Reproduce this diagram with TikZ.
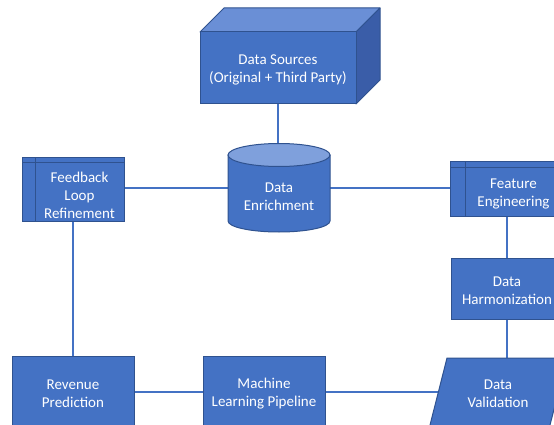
\documentclass[tikz,border=0pt]{standalone}
\usepackage{fontspec}
\setmainfont{Carlito}
\definecolor{boxfill}{HTML}{4472C4}
\definecolor{boxline}{HTML}{2F528F}
\definecolor{topface}{HTML}{6A8FD6}
\definecolor{sideface}{HTML}{3A5DA8}
\definecolor{captop}{HTML}{7FA0DC}
\definecolor{wire}{HTML}{4472C4}
\begin{document}
\begin{tikzpicture}[x=1pt,y=-1pt,
  lbl/.style={text=white,font=\fontsize{15}{18}\selectfont,align=center,inner sep=0pt,yshift=-2pt},
  shp/.style={fill=boxfill,draw=boxline,line width=1pt},
  wireline/.style={draw=wire,line width=1.5pt}]
\useasboundingbox (0,0) rectangle (554,425);
% connectors (drawn first, under shapes)
\coordinate (dsb) at (278,104);
\coordinate (ent) at (278,144);
\coordinate (enl) at (228,188);
\coordinate (enr) at (330,188);
\coordinate (fbr) at (124,188);
\coordinate (fbb) at (73,221);
\coordinate (ftl) at (450,188);
\coordinate (ftb) at (507,216);
\coordinate (dht) at (507,258);
\coordinate (dhb) at (507,319);
\coordinate (dvt) at (507,358);
\coordinate (dvl) at (438,392);
\coordinate (rpt) at (73,356);
\coordinate (rpr) at (134,392);
\coordinate (mll) at (203,392);
\coordinate (mlr) at (325,392);
\draw[wireline] (dsb) -- (ent);
\draw[wireline] (enl) -- (fbr);
\draw[wireline] (enr) -- (ftl);
\draw[wireline] (fbb) -- (rpt);
\draw[wireline] (ftb) -- (dht);
\draw[wireline] (dhb) -- (dvt);
\draw[wireline] (rpr) -- (mll);
\draw[wireline] (mlr) -- (dvl);
% Data Sources cube
\filldraw[fill=topface,draw=boxline,line width=1pt,line join=round] (200,32) -- (224,8) -- (380,8) -- (356,32) -- cycle;
\filldraw[fill=sideface,draw=boxline,line width=1pt,line join=round] (356,32) -- (380,8) -- (380,80) -- (356,104) -- cycle;
\filldraw[shp] (200,32) rectangle (356,104);
\node[lbl] (ds) at (278,68) {Data Sources\\(Original + Third Party)};
% Data Enrichment cylinder
\filldraw[shp] (228,155) -- (228,221) arc[start angle=180,end angle=0,x radius=51,y radius=11] -- (330,155) -- cycle;
\filldraw[fill=captop,draw=boxline,line width=1pt] (279,155) ellipse[x radius=51,y radius=11.5];
\node[lbl] (en) at (279,195) {Data\\Enrichment};
% Feedback Loop Refinement
\filldraw[shp] (22,157) rectangle (124,221);
\draw[boxline,line width=1pt] (35,157) -- (35,221) (22,162) -- (124,162);
\node[lbl] (fb) at (79.5,193) {Feedback\\Loop\\Refinement};
% Feature Engineering
\filldraw[shp] (450,161) rectangle (562,216);
\draw[boxline,line width=1pt] (465,161) -- (465,216) (450,167) -- (562,167);
\node[lbl] (ft) at (513.5,192) {Feature\\Engineering};
% Data Harmonization
\filldraw[shp] (451,258) rectangle (563,319);
\node[lbl] (dh) at (507,289) {Data\\Harmonization};
% Data Validation
\filldraw[shp] (447,358) -- (567,358) -- (548.5,431) -- (428.5,431) -- cycle;
\node[lbl] (dv) at (498,392) {Data\\Validation};
% Revenue Prediction
\filldraw[shp] (12,356) rectangle (134,431);
\node[lbl] (rp) at (73,392) {Revenue\\Prediction};
% Machine Learning Pipeline
\filldraw[shp] (203,356) rectangle (325,431);
\node[lbl] (ml) at (264,392) {Machine\\Learning Pipeline};
\end{tikzpicture}
\end{document}
